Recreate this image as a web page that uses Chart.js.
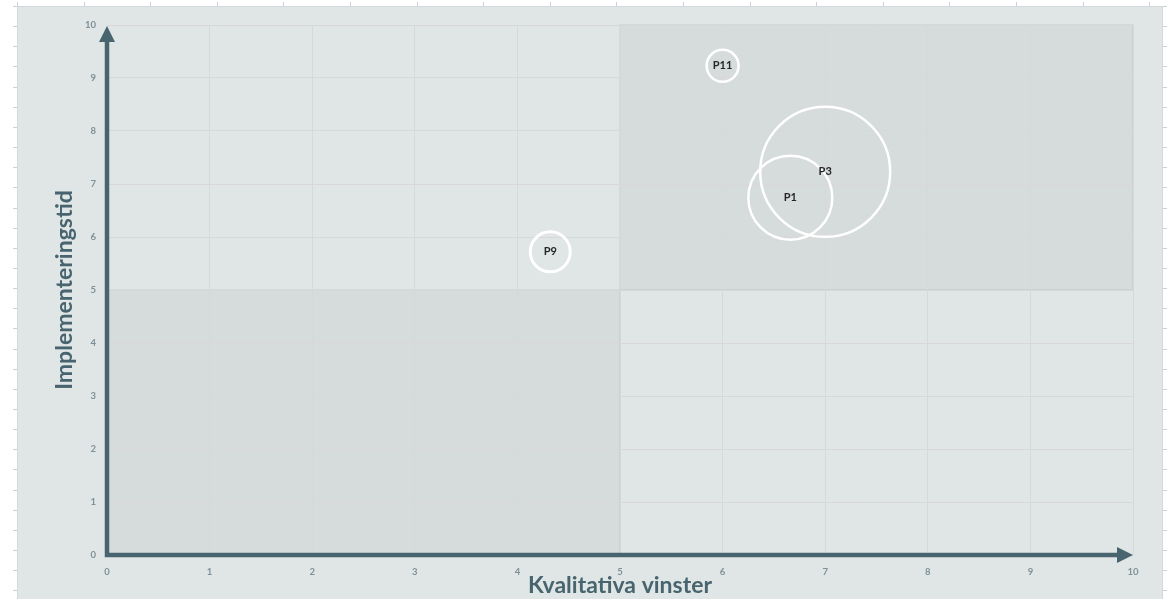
<!DOCTYPE html>
<html>
<head>
<meta charset="utf-8">
<script src="https://cdn.jsdelivr.net/npm/chart.js@4.4.1/dist/chart.umd.min.js"></script>
<style>
    html, body { margin: 0; padding: 0; background: #ffffff; }
    #wrap { width: 1173px; height: 599px; }
</style>
</head>
<body>
<div id="wrap"><canvas id="matrixChart" width="1173" height="599"></canvas></div>
<script>
const projectNames = ['P11', 'P3', 'P1', 'P9'];
const qualitativeGains = [6.0, 7.0, 6.66, 4.32];
const implementationTime = [9.23, 7.23, 6.74, 5.72];
const bubbleSizes = [16, 65, 42, 20];
const axisTicks = [0, 1, 2, 3, 4, 5, 6, 7, 8, 9, 10];
const xTitle = 'Kvalitativa vinster';
const yTitle = 'Implementeringstid';
// the two shaded quadrants: [xFrom, xTo, yFrom, yTo]
const shadedZones = [[5, 10, 5, 10], [0, 5, 0, 5]];

const axisColor = '#48656f';

const panelPlugin = {
    id: 'panel',
    beforeDraw(chart) {
        const ctx = chart.ctx;
        const { x, y } = chart.scales;
        ctx.save();
        // chart panel
        ctx.fillStyle = '#dfe6e5';
        ctx.fillRect(17, 6, 1146, 593);
        ctx.strokeStyle = '#d3d8da';
        ctx.lineWidth = 1;
        ctx.beginPath();
        ctx.moveTo(17.5, 599); ctx.lineTo(17.5, 6.5); ctx.lineTo(1162.5, 6.5); ctx.lineTo(1162.5, 599);
        ctx.stroke();
        // ruler marks round the panel
        ctx.strokeStyle = '#cdd1d3';
        ctx.beginPath();
        for (let py = 6; py < 599; py += 20.15) {
            ctx.moveTo(13, Math.round(py) + 0.5); ctx.lineTo(17, Math.round(py) + 0.5);
            ctx.moveTo(1163, Math.round(py) + 0.5); ctx.lineTo(1167, Math.round(py) + 0.5);
        }
        for (let px = 17; px < 1165; px += 66.6) {
            ctx.moveTo(Math.round(px) + 0.5, 2); ctx.lineTo(Math.round(px) + 0.5, 6);
        }
        ctx.stroke();
        // shaded quadrants
        shadedZones.forEach(z => {
            const left = x.getPixelForValue(z[0]), right = x.getPixelForValue(z[1]);
            const top = y.getPixelForValue(z[3]), bottom = y.getPixelForValue(z[2]);
            ctx.fillStyle = '#d5dcdb';
            ctx.fillRect(left, top, right - left, bottom - top);
            ctx.strokeStyle = 'rgba(120,130,130,0.12)';
            ctx.lineWidth = 2;
            ctx.strokeRect(left, top, right - left, bottom - top);
        });
        ctx.restore();
    }
};

const arrowPlugin = {
    id: 'arrows',
    beforeDatasetsDraw(chart) {
        const { ctx, scales: { x, y } } = chart;
        const x0 = x.getPixelForValue(0), x1 = x.getPixelForValue(10);
        const y0 = y.getPixelForValue(0), y1 = y.getPixelForValue(10);
        ctx.save();
        ctx.strokeStyle = axisColor;
        ctx.fillStyle = axisColor;
        ctx.lineWidth = 4.5;
        ctx.lineJoin = 'miter';
        ctx.beginPath();
        ctx.moveTo(x0, y1 + 12);
        ctx.lineTo(x0, y0);
        ctx.lineTo(x1 - 12, y0);
        ctx.stroke();
        ctx.beginPath();
        ctx.moveTo(x0, y1 + 1);
        ctx.lineTo(x0 - 8, y1 + 17);
        ctx.lineTo(x0 + 8, y1 + 17);
        ctx.closePath();
        ctx.fill();
        ctx.beginPath();
        ctx.moveTo(x1, y0);
        ctx.lineTo(x1 - 16, y0 - 8);
        ctx.lineTo(x1 - 16, y0 + 8);
        ctx.closePath();
        ctx.fill();
        ctx.restore();
    }
};

const labelPlugin = {
    id: 'bubbleLabels',
    afterDatasetsDraw(chart) {
        const ctx = chart.ctx;
        const meta = chart.getDatasetMeta(0);
        ctx.save();
        ctx.font = 'bold 11px Lato, "Open Sans", sans-serif';
        ctx.fillStyle = '#262626';
        ctx.textAlign = 'center';
        ctx.textBaseline = 'middle';
        meta.data.forEach((pt, i) => {
            ctx.fillText(projectNames[i], pt.x, pt.y);
        });
        ctx.restore();
    }
};

const ctx = document.getElementById('matrixChart').getContext('2d');
new Chart(ctx, {
    type: 'bubble',
    data: {
        datasets: [{
            label: 'Projekt',
            data: projectNames.map((n, i) => ({ x: qualitativeGains[i], y: implementationTime[i], r: bubbleSizes[i] })),
            backgroundColor: 'rgba(255,255,255,0)',
            borderColor: '#ffffff',
            borderWidth: [2.5, 2.5, 2.5, 3],
            hoverBorderWidth: 2.5,
            clip: false
        }]
    },
    options: {
        responsive: false,
        animation: false,
        layout: { autoPadding: false, padding: { top: 25, right: 40, left: 0, bottom: 0 } },
        plugins: {
            legend: { display: false },
            tooltip: { enabled: false }
        },
        scales: {
            x: {
                type: 'linear',
                min: axisTicks[0],
                max: axisTicks[axisTicks.length - 1],
                afterBuildTicks: s => { s.ticks = axisTicks.map(v => ({ value: v })); },
                afterFit: s => { s.height = 44; },
                grid: { color: '#d8d8d8', lineWidth: 1, drawTicks: false },
                border: { display: false },
                ticks: {
                    padding: 11,
                    color: '#7f9098',
                    font: { family: 'Lato, sans-serif', size: 9.5, weight: 'bold' }
                },
                title: {
                    display: true,
                    text: xTitle,
                    color: axisColor,
                    padding: { top: 0, bottom: 0 },
                    font: { family: 'Lato, sans-serif', size: 23, weight: 'bold', lineHeight: 1.2 }
                }
            },
            y: {
                type: 'linear',
                min: axisTicks[0],
                max: axisTicks[axisTicks.length - 1],
                afterBuildTicks: s => { s.ticks = axisTicks.map(v => ({ value: v })); },
                afterFit: s => { s.width = 107; },
                grid: { color: '#d8d8d8', lineWidth: 1, drawTicks: false },
                border: { display: false },
                ticks: {
                    padding: 11,
                    color: '#7f9098',
                    font: { family: 'Lato, sans-serif', size: 9.5, weight: 'bold' }
                },
                title: {
                    display: true,
                    text: yTitle,
                    color: axisColor,
                    padding: { top: 51, bottom: 0 },
                    font: { family: 'Lato, sans-serif', size: 23, weight: 'bold', lineHeight: 1.2 }
                }
            }
        }
    },
    plugins: [panelPlugin, arrowPlugin, labelPlugin]
});
</script>
</body>
</html>
